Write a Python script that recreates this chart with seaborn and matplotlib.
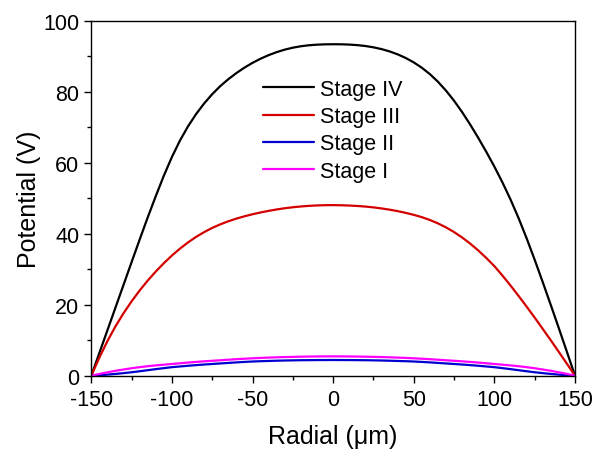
import matplotlib
matplotlib.use("Agg")
import matplotlib.pyplot as plt
import numpy as np
import pandas as pd
import seaborn as sns
from matplotlib.ticker import MultipleLocator

# Datos (potencial vs posicion radial), cada 5 um
radial = list(range(-150, 151, 5))

stage_iv = [0, 6.4, 12.8, 19.2, 25.6, 32.0, 38.35, 44.6, 50.6, 56.35,
            61.6, 66.25, 70.25, 73.7, 76.7, 79.3, 81.58, 83.53, 85.25, 86.78,
            88.13, 89.3, 90.3, 91.15, 91.85, 92.4, 92.8, 93.08, 93.25, 93.34,
            93.37,
            93.35, 93.27, 93.12, 92.87, 92.5, 92.0, 91.35, 90.52, 89.5, 88.25,
            86.75, 84.95, 82.8, 80.3, 77.45, 74.25, 70.75, 67.0, 63.05, 58.9,
            54.45, 49.65, 44.4, 38.7, 32.65, 26.35, 19.9, 13.35, 6.7, 0]

stage_iii = [0, 5.1, 9.75, 13.9, 17.6, 20.95, 24.0, 26.8, 29.35, 31.7,
             33.85, 35.8, 37.55, 39.1, 40.45, 41.63, 42.63, 43.5, 44.25, 44.9,
             45.48, 45.98, 46.43, 46.83, 47.17, 47.45, 47.67, 47.84, 47.96, 48.03,
             48.05,
             48.01, 47.93, 47.81, 47.64, 47.41, 47.12, 46.77, 46.35, 45.87, 45.31,
             44.66, 43.86, 42.91, 41.78, 40.46, 38.93, 37.21, 35.28, 33.16, 30.86,
             28.21, 25.41, 22.48, 19.46, 16.36, 13.18, 9.96, 6.68, 3.36, 0]

stage_ii = [0, 0.12, 0.3, 0.5, 0.72, 0.97, 1.25, 1.55, 1.85, 2.13,
            2.4, 2.6, 2.8, 2.98, 3.15, 3.3, 3.45, 3.6, 3.75, 3.88,
            4.0, 4.08, 4.15, 4.22, 4.28, 4.32, 4.36, 4.38, 4.4, 4.41,
            4.42,
            4.41, 4.4, 4.38, 4.36, 4.32, 4.28, 4.22, 4.15, 4.08, 4.0,
            3.88, 3.75, 3.6, 3.45, 3.3, 3.15, 2.98, 2.8, 2.6, 2.4,
            2.13, 1.85, 1.55, 1.25, 0.97, 0.72, 0.5, 0.3, 0.12, 0]

stage_i = [0, 0.5, 0.95, 1.38, 1.75, 2.1, 2.4, 2.67, 2.9, 3.1,
           3.3, 3.5, 3.7, 3.88, 4.05, 4.2, 4.35, 4.5, 4.65, 4.78,
           4.9, 5.0, 5.1, 5.18, 5.25, 5.3, 5.35, 5.39, 5.42, 5.44,
           5.45,
           5.44, 5.42, 5.39, 5.35, 5.3, 5.25, 5.18, 5.1, 5.0, 4.9,
           4.78, 4.65, 4.5, 4.35, 4.2, 4.05, 3.88, 3.7, 3.5, 3.3,
           3.1, 2.9, 2.67, 2.4, 2.1, 1.75, 1.38, 0.95, 0.5, 0]

etapas = ["Stage IV", "Stage III", "Stage II", "Stage I"]
colores = ["#000000", "#d40000", "#0000d0", "#ff00ff"]

df = pd.DataFrame({
    "radial": radial * 4,
    "potential": stage_iv + stage_iii + stage_ii + stage_i,
    "stage": sum([[e] * len(radial) for e in etapas], []),
})

sns.set_style("ticks")
plt.rcParams['font.family'] = ['Liberation Sans', 'DejaVu Sans']
plt.rcParams['axes.unicode_minus'] = False
plt.rcParams['text.color'] = 'black'
plt.rcParams['axes.labelcolor'] = 'black'

fig = plt.figure(figsize=(5.94, 4.52), dpi=100)
ax = fig.add_axes([0.1537, 0.1666, 0.8143, 0.7854])

sns.lineplot(data=df, x="radial", y="potential", hue="stage", hue_order=etapas,
             palette=colores, linewidth=1.6, ax=ax, legend=True)

ax.set_xlim(-150, 150)
ax.set_ylim(0, 100)
ax.xaxis.set_major_locator(MultipleLocator(50))
ax.xaxis.set_minor_locator(MultipleLocator(25))
ax.yaxis.set_major_locator(MultipleLocator(20))
ax.yaxis.set_minor_locator(MultipleLocator(10))

for s in ax.spines.values():
    s.set_linewidth(1.0)
    s.set_color("black")

ax.tick_params(which="major", direction="out", length=5, width=1.0,
               labelsize=15.5, colors="black", top=False, right=False)
ax.tick_params(which="minor", direction="out", length=3, width=1.0,
               colors="black", top=False, right=False)
ax.tick_params(axis="x", pad=4.5)
ax.tick_params(axis="y", pad=3.5)

ax.set_xlabel("Radial (\u03bcm)", fontsize=18, labelpad=10, color="black")
ax.set_ylabel("Potential (V)", fontsize=18, labelpad=2, color="black")

leg = ax.legend(loc="upper left", bbox_to_anchor=(263 / 594, 1 - 80 / 452),
                bbox_transform=fig.transFigure, frameon=False, fontsize=15.5,
                handlelength=2.35, handletextpad=0.3, labelspacing=0.29,
                borderpad=0, borderaxespad=0)
for h in leg.get_lines():
    h.set_linewidth(1.6)
for t in leg.get_texts():
    t.set_color("black")

fig.savefig("out.png", dpi=100)
